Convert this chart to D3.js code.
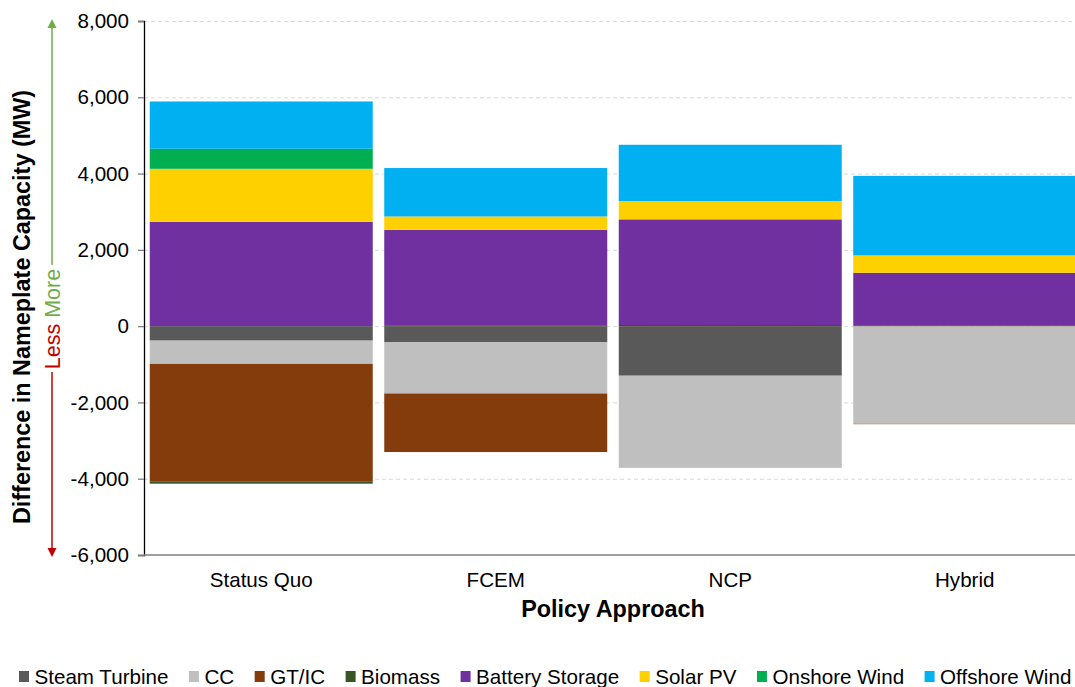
<!DOCTYPE html>
<html>
<head>
<meta charset="utf-8">
<script src="https://cdn.jsdelivr.net/npm/d3@7"></script>
<style>
  html, body { margin: 0; padding: 0; background: #fff; overflow: hidden; }
  svg { display: block; font-family: "Liberation Sans", Arial, sans-serif; }
</style>
</head>
<body>
<svg id="chart" width="1075" height="687"></svg>
<script>
// ---- data ----
const categories = ["Status Quo", "FCEM", "NCP", "Hybrid"];
const seriesNames = ["Steam Turbine", "CC", "GT/IC", "Biomass", "Battery Storage", "Solar PV", "Onshore Wind", "Offshore Wind"];
const seriesColors = ["#595959", "#BFBFBF", "#843C0C", "#375623", "#7030A0", "#FFD000", "#00B050", "#00B0F0"];
const steamTurbine   = [-380, -425, -1300, 0];
const cc             = [-610, -1340, -2415, -2560];
const gtic           = [-3090, -1535, 0, -10];
const biomass        = [-50, 25, 30, 25];
const batteryStorage = [2735, 2500, 2770, 1375];
const solarPV        = [1390, 350, 480, 455];
const onshoreWind    = [525, 0, 0, 0];
const offshoreWind   = [1240, 1270, 1475, 2085];
const yTicks = [8000, 6000, 4000, 2000, 0, -2000, -4000, -6000];
const yTitle = "Difference in Nameplate Capacity (MW)";
const xTitle = "Policy Approach";

const seriesValues = [steamTurbine, cc, gtic, biomass, batteryStorage, solarPV, onshoreWind, offshoreWind];
const table = categories.map((c, i) => {
  const row = { category: c };
  seriesNames.forEach((s, j) => row[s] = seriesValues[j][i]);
  return row;
});

// ---- layout ----
const svg = d3.select("#chart");
const plotLeft = 144, plotTop = 21, plotBottom = 555;
const step = 234.5;
const fs = 20.6;

const x = d3.scaleBand()
  .domain(categories)
  .range([plotLeft, plotLeft + step * categories.length])
  .paddingInner(0.049)
  .paddingOuter(0.0245);

const y = d3.scaleLinear().domain([-6000, 8000]).range([plotBottom, plotTop]);

// gridlines
svg.append("g")
  .selectAll("line")
  .data(yTicks.filter(t => t !== -6000))
  .join("line")
  .attr("x1", plotLeft).attr("x2", 1075)
  .attr("y1", d => y(d) + 0.5).attr("y2", d => y(d) + 0.5)
  .attr("stroke", "#D9D9D9")
  .attr("stroke-width", 1)
  .attr("stroke-dasharray", "4,3");

// stacked bars
const stack = d3.stack().keys(seriesNames).offset(d3.stackOffsetDiverging);
const stacked = stack(table);

svg.append("g")
  .selectAll("g")
  .data(stacked)
  .join("g")
  .attr("fill", (d, i) => seriesColors[i])
  .selectAll("rect")
  .data(d => d)
  .join("rect")
  .attr("x", d => x(d.data.category))
  .attr("width", x.bandwidth())
  .attr("y", d => y(Math.max(d[0], d[1])))
  .attr("height", d => Math.abs(y(d[0]) - y(d[1])));

// y axis
const yAxis = d3.axisLeft(y).tickValues(yTicks).tickSize(6).tickPadding(9)
  .tickFormat(d3.format(","));
const gy = svg.append("g").attr("transform", `translate(${plotLeft},0)`).call(yAxis);
gy.select(".domain").attr("stroke", "#000").attr("stroke-width", 1.3);
gy.selectAll(".tick line").attr("stroke", "#7F7F7F").attr("stroke-width", 1.3);
gy.selectAll(".tick text")
  .attr("font-size", fs)
  .attr("fill", "#000")
  .attr("font-family", "Liberation Sans, Arial, sans-serif")
  .text(d => d3.format(",")(d).replace("−", "-"));

// x axis (bottom line at -6000)
const xAxis = d3.axisBottom(x).tickSize(0).tickPadding(17);
const gx = svg.append("g").attr("transform", `translate(0,${y(-6000)})`).call(xAxis);
gx.select(".domain").attr("stroke", "#7F7F7F").attr("stroke-width", 1.3)
  .attr("d", `M${plotLeft},0H1080`);
gx.selectAll(".tick text")
  .attr("font-size", fs)
  .attr("fill", "#000")
  .attr("font-family", "Liberation Sans, Arial, sans-serif");

// axis titles
svg.append("text")
  .attr("x", (x.range()[0] + x.range()[1]) / 2)
  .attr("y", 617)
  .attr("text-anchor", "middle")
  .attr("font-size", 23.4)
  .attr("font-weight", "bold")
  .text(xTitle);

svg.append("text")
  .attr("transform", `translate(30,${307}) rotate(-90)`)
  .attr("text-anchor", "middle")
  .attr("font-size", 23.4)
  .attr("font-weight", "bold")
  .text(yTitle);

// Less / More annotation
const ax = 52;
const green = "#70AD47", red = "#C00000";
svg.append("line").attr("x1", ax).attr("x2", ax).attr("y1", 265).attr("y2", 27)
  .attr("stroke", green).attr("stroke-width", 1.5);
svg.append("path").attr("d", `M${ax - 4.5},28L${ax},19L${ax + 4.5},28Z`).attr("fill", green);
svg.append("line").attr("x1", ax).attr("x2", ax).attr("y1", 372).attr("y2", 549)
  .attr("stroke", red).attr("stroke-width", 1.5);
svg.append("path").attr("d", `M${ax - 4.5},548L${ax},557L${ax + 4.5},548Z`).attr("fill", red);
const lm = svg.append("text")
  .attr("transform", `translate(${ax + 7.5},319) rotate(-90)`)
  .attr("text-anchor", "middle")
  .attr("font-size", 21.5);
lm.append("tspan").attr("fill", red).text("Less");
lm.append("tspan").attr("fill", green).text(" More");

// legend
const legend = svg.append("g");
let lx = 19;
seriesNames.forEach((s, i) => {
  legend.append("rect").attr("x", lx).attr("y", 671).attr("width", 10).attr("height", 11)
    .attr("fill", seriesColors[i]);
  const t = legend.append("text").attr("x", lx + 15.5).attr("y", 683.5)
    .attr("font-size", fs).attr("fill", "#000").text(s);
  lx += 15.5 + t.node().getComputedTextLength() + 20.5;
});
</script>
</body>
</html>
